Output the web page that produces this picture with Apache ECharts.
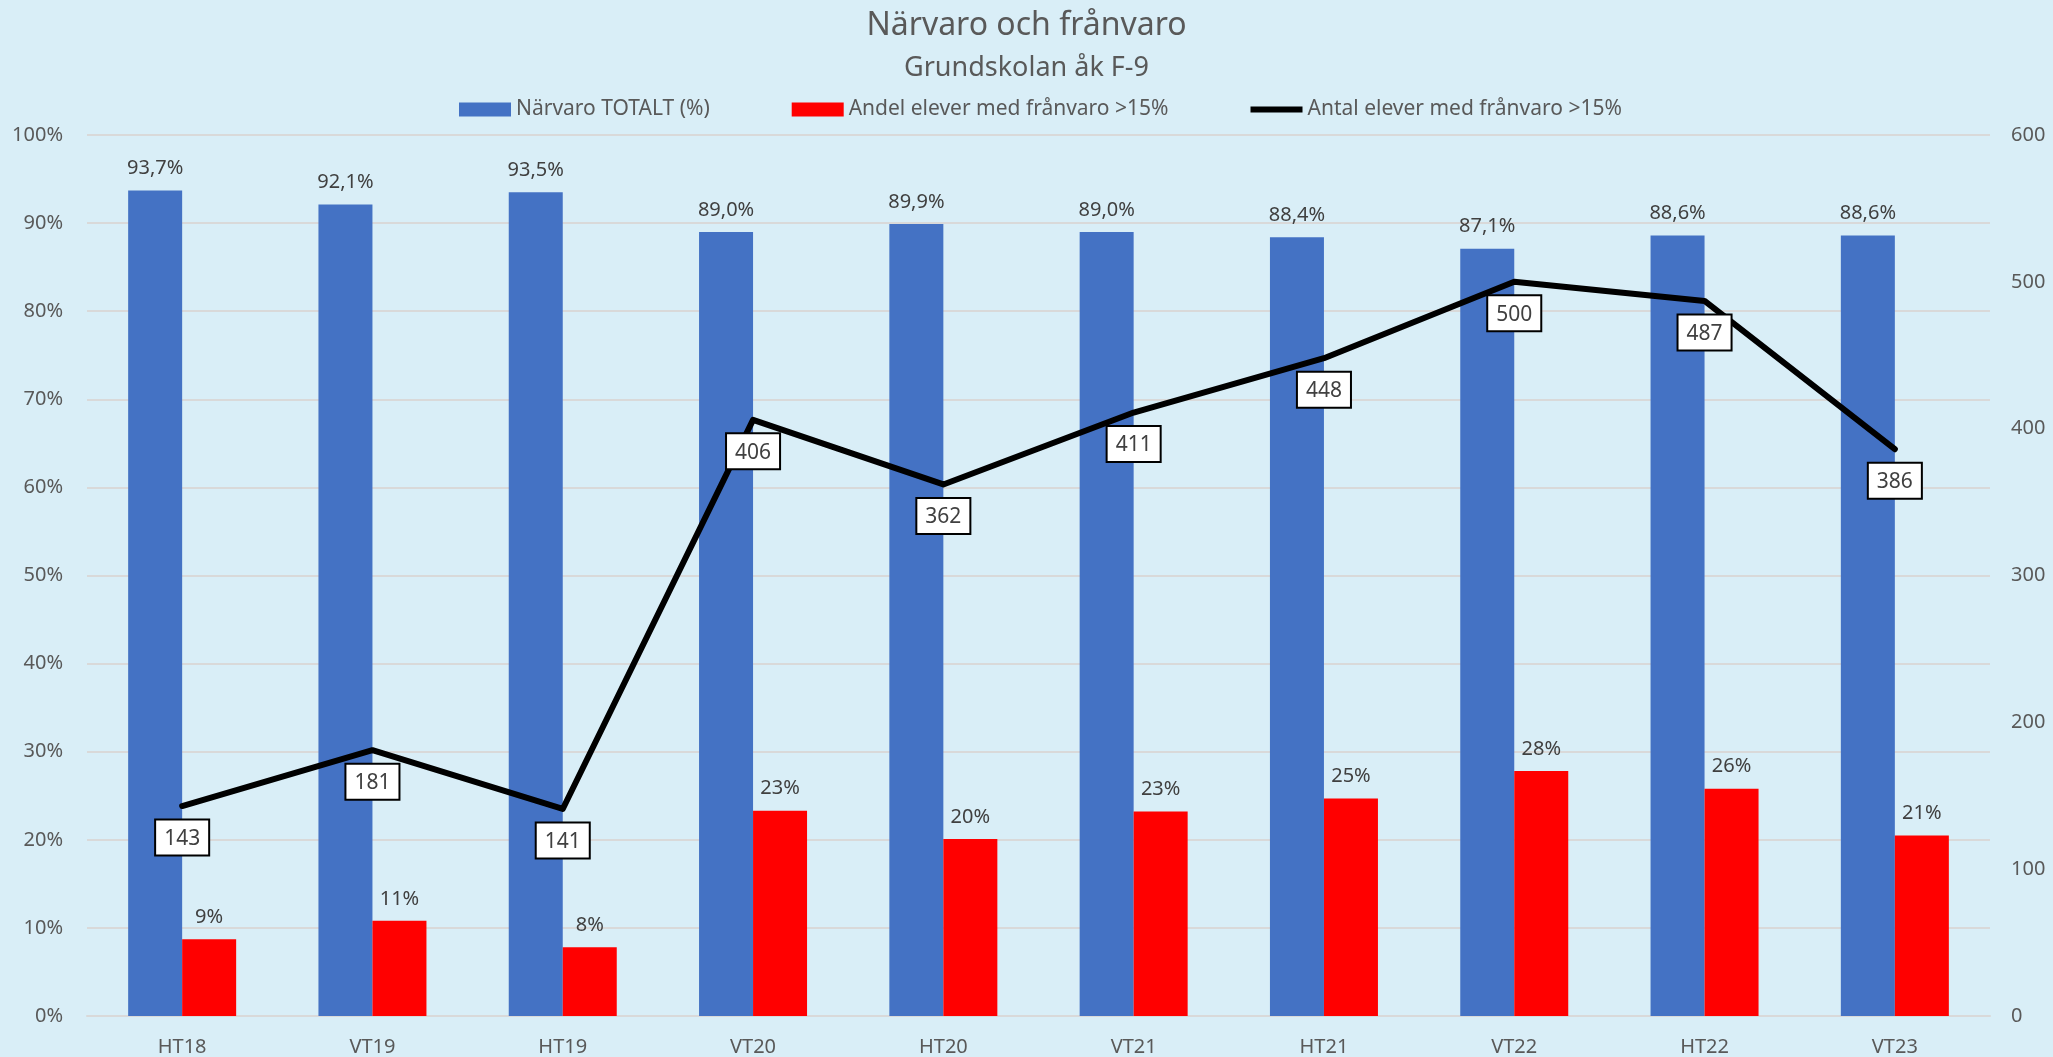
<!DOCTYPE html>
<html>
<head>
  <meta charset="UTF-8">
  <title>Närvaro och frånvaro</title>
  <style>
    html, body { margin: 0; padding: 0; background: #D9EEF7; }
    #chart { width: 2053px; height: 1057px; }
  </style>
  <script src="https://cdn.jsdelivr.net/npm/echarts@6/dist/echarts.min.js"></script>
</head>
<body>
  <div id="chart"></div>
  <script>
    // terminer
    var categories = ['HT18', 'VT19', 'HT19', 'VT20', 'HT20', 'VT21', 'HT21', 'VT22', 'HT22', 'VT23'];
    // närvaro totalt i procent
    var narvaro = [93.7, 92.1, 93.5, 89.0, 89.9, 89.0, 88.4, 87.1, 88.6, 88.6];
    // andel elever med frånvaro >15% (procent, avläst från staplarna)
    var andelFranvaro = [8.7, 10.8, 7.8, 23.3, 20.1, 23.2, 24.7, 27.8, 25.8, 20.5];
    // antal elever med frånvaro >15%
    var antalFranvaro = [143, 181, 141, 406, 362, 411, 448, 500, 487, 386];

    var names = ['Närvaro TOTALT (%)', 'Andel elever med frånvaro >15%', 'Antal elever med frånvaro >15%'];

    var font = 'Noto Sans';
    var myChart = echarts.init(document.getElementById('chart'));

    var option = {
      backgroundColor: '#D9EEF7',
      textStyle: { fontFamily: font },
      title: {
        text: 'Närvaro och frånvaro',
        subtext: 'Grundskolan åk F-9',
        left: 'center',
        top: 5,
        itemGap: 13,
        textStyle: { fontSize: 32, fontWeight: 'normal', color: '#595959', fontFamily: font },
        subtextStyle: { fontSize: 27, color: '#595959', fontFamily: font }
      },
      legend: {
        top: 94,
        left: 454,
        itemWidth: 52,
        itemHeight: 14,
        itemGap: 82,
        textStyle: { fontSize: 21, color: '#595959', fontFamily: font },
        data: [
          { name: names[0], icon: 'rect' },
          { name: names[1], icon: 'rect' },
          { name: names[2], icon: 'path://M0,0 L52,0 L52,6 L0,6 Z', itemStyle: { color: '#000000' } }
        ]
      },
      grid: { left: 87, right: 63, top: 135, bottom: 40, containLabel: false },
      xAxis: {
        type: 'category',
        data: categories,
        axisLine: { lineStyle: { color: '#D9D9D9', width: 2 } },
        axisTick: { show: false },
        axisLabel: { fontSize: 20, color: '#595959', margin: 21 }
      },
      yAxis: [
        {
          type: 'value',
          min: 0, max: 100, interval: 10,
          axisLabel: { fontSize: 20, color: '#595959', margin: 24, formatter: '{value}%' },
          splitLine: { lineStyle: { color: '#D9D9D9', width: 2 } },
          axisLine: { show: false }, axisTick: { show: false }
        },
        {
          type: 'value',
          min: 0, max: 600, interval: 100,
          axisLabel: { fontSize: 20, color: '#595959', margin: 21 },
          splitLine: { show: false },
          axisLine: { show: false }, axisTick: { show: false }
        }
      ],
      series: [
        {
          name: names[0],
          type: 'bar',
          data: narvaro,
          barWidth: 54,
          barGap: '0%',
          itemStyle: { color: '#4472C4' },
          label: {
            show: true, position: 'top', distance: 12,
            fontSize: 20, color: '#404040',
            formatter: function (p) { return p.value.toFixed(1).replace('.', ',') + '%'; }
          }
        },
        {
          name: names[1],
          type: 'bar',
          data: andelFranvaro,
          barWidth: 54,
          barGap: '0%',
          itemStyle: { color: '#FF0000' },
          label: {
            show: true, position: 'top', distance: 12,
            fontSize: 20, color: '#404040',
            formatter: function (p) { return Math.round(p.value) + '%'; }
          }
        },
        {
          name: names[2],
          type: 'line',
          yAxisIndex: 1,
          data: antalFranvaro,
          symbol: 'circle',
          symbolSize: 1,
          showSymbol: true,
          z: 5,
          lineStyle: { color: '#000000', width: 6, cap: 'round', join: 'round' },
          itemStyle: { color: '#000000' },
          label: {
            show: true, position: 'bottom', distance: 14,
            fontSize: 21, color: '#404040',
            backgroundColor: '#FFFFFF', borderColor: '#000000', borderWidth: 2,
            padding: [8, 8, 5, 8]
          }
        }
      ]
    };
    myChart.setOption(option);
  </script>
</body>
</html>
